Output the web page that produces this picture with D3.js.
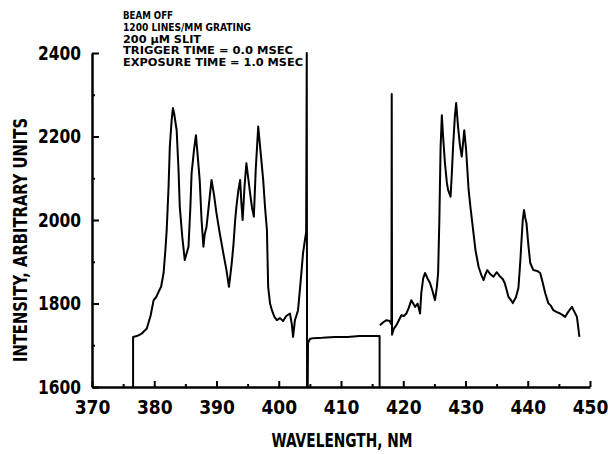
<!DOCTYPE html>
<html>
<head>
<meta charset="utf-8">
<script src="https://cdn.jsdelivr.net/npm/d3@7"></script>
<style>
  html, body { margin: 0; padding: 0; background: #fff; }
  svg { display: block; }
  text { font-family: "Liberation Sans Narrow", "DejaVu Sans Condensed", "Liberation Sans", sans-serif; font-weight: bold; fill: #000; }
</style>
</head>
<body>
<svg id="chart" width="608" height="454"></svg>
<script>
// spectrum, split where the trace breaks
const traceA_nm = [376.6, 376.6, 377.2, 378.0, 378.8, 379.4, 379.9, 380.3, 380.7, 381.1, 381.5, 381.8, 382.0, 382.3, 382.5, 382.8, 383.0, 383.2, 383.6, 383.9, 384.1, 384.5, 384.9, 385.2, 385.5, 385.8, 386.0, 386.4, 386.7, 387.0, 387.3, 387.6, 387.9, 388.1, 388.4, 388.8, 389.2, 389.6, 390.0, 390.5, 391.1, 391.6, 392.0, 392.4, 392.7, 393.0, 393.2, 393.5, 393.8, 394.0, 394.2, 394.5, 394.8, 395.1, 395.4, 395.7, 396.0, 396.3, 396.7, 397.1, 397.5, 397.8, 398.1, 398.3, 398.6, 398.9, 399.3, 399.7, 400.2, 400.7, 401.2, 401.8, 402.1, 402.3, 402.6, 403.1, 403.5, 403.9, 404.2, 404.4, 404.5, 404.55]
const traceA_val = [1600, 1720, 1722, 1728, 1740, 1770, 1808, 1815, 1828, 1840, 1873, 1930, 1976, 2080, 2175, 2240, 2268, 2255, 2215, 2120, 2032, 1960, 1904, 1920, 1936, 2030, 2112, 2170, 2203, 2150, 2096, 2000, 1936, 1965, 1984, 2040, 2096, 2060, 2016, 1970, 1920, 1880, 1840, 1890, 1936, 2000, 2032, 2070, 2096, 2040, 2000, 2080, 2136, 2100, 2064, 2030, 2008, 2120, 2224, 2160, 2096, 2030, 1976, 1840, 1800, 1784, 1768, 1760, 1765, 1758, 1770, 1776, 1750, 1720, 1760, 1784, 1850, 1920, 1952, 1970, 2400, 1600]

const traceB_nm = [404.65, 404.7, 405.0, 405.5, 407, 409, 411, 413, 415, 416.2, 416.2]
const traceB_val = [1600, 1705, 1715, 1717, 1718, 1720, 1720, 1722, 1722, 1722, 1600]

const traceC_nm = [416.25, 416.8, 417.3, 417.8, 418.1, 418.15, 418.2, 418.5, 418.9, 419.3, 419.7, 420.1, 420.5, 420.9, 421.3, 421.6, 421.9, 422.3, 422.7, 422.9, 423.2, 423.5, 423.9, 424.3, 424.7, 425.1, 425.4, 425.6, 425.8, 426.0, 426.2, 426.4, 426.7, 427.0, 427.2, 427.6, 427.8, 428.0, 428.3, 428.5, 428.8, 429.1, 429.4, 429.8, 430.1, 430.5, 430.8, 431.1, 431.6, 432.1, 432.5, 432.9, 433.2, 433.5, 434.0, 434.5, 435.0, 435.6, 436.0, 436.3, 436.9, 437.3, 437.6, 438.1, 438.5, 438.8, 439.0, 439.2, 439.4, 439.6, 439.8, 440.1, 440.4, 440.9, 441.5, 442.0, 442.4, 442.8, 443.3, 443.7, 444.1, 444.6, 445.2, 445.6, 446.0, 446.5, 447.1, 447.5, 447.9, 448.3]
const traceC_val = [1748, 1755, 1760, 1758, 1750, 2302, 1725, 1740, 1748, 1760, 1772, 1770, 1776, 1790, 1808, 1800, 1792, 1800, 1776, 1825, 1860, 1873, 1860, 1849, 1830, 1808, 1840, 1873, 2000, 2175, 2251, 2200, 2136, 2090, 2072, 2056, 2110, 2175, 2250, 2280, 2224, 2180, 2152, 2215, 2168, 2072, 2030, 1992, 1928, 1888, 1870, 1856, 1870, 1880, 1870, 1864, 1875, 1864, 1858, 1849, 1816, 1808, 1801, 1815, 1837, 1900, 1952, 2000, 2024, 2005, 1992, 1940, 1897, 1880, 1878, 1873, 1850, 1825, 1801, 1795, 1784, 1780, 1776, 1772, 1768, 1780, 1792, 1780, 1768, 1720]

const xMajor = [370, 380, 390, 400, 410, 420, 430, 440, 450]
const xMinor = [375, 385, 395, 405, 415, 425, 435, 445]
const yMajor = [1600, 1800, 2000, 2200, 2400]
const yMinor = [1700, 1900, 2100, 2300]

const notes = [
  'BEAM OFF',
  '1200 LINES/MM GRATING',
  '200 \u03bcM SLIT',
  'TRIGGER TIME = 0.0 MSEC',
  'EXPOSURE TIME = 1.0 MSEC'
]
const noteWidths = [50, 128, 78, 170, 180]

const svg = d3.select('#chart')

const x = d3.scaleLinear().domain([370, 450]).range([92, 590])
const y = d3.scaleLinear().domain([1600, 2400]).range([387, 53])

// axes, ticks point inward
const xAxis = svg.append('g')
  .attr('transform', `translate(0, ${y(1600)})`)
  .call(d3.axisBottom(x).tickValues(xMajor).tickSizeInner(-6).tickSizeOuter(0).tickPadding(14))
xAxis.select('.domain').attr('stroke-width', 2.5)
xAxis.selectAll('.tick line').attr('stroke-width', 2)
xAxis.selectAll('.tick text').attr('font-size', 19)

svg.append('g')
  .attr('transform', `translate(0, ${y(1600)})`)
  .call(d3.axisBottom(x).tickValues(xMinor).tickSizeInner(-3).tickSizeOuter(0).tickFormat(''))
  .call(g => g.select('.domain').remove())
  .selectAll('.tick line').attr('stroke-width', 2)

const yAxis = svg.append('g')
  .attr('transform', `translate(${x(370)}, 0)`)
  .call(d3.axisLeft(y).tickValues(yMajor).tickFormat(d3.format('d'))
    .tickSizeInner(-7).tickSizeOuter(0).tickPadding(11))
yAxis.select('.domain').attr('stroke-width', 2.5)
yAxis.selectAll('.tick line').attr('stroke-width', 2)
yAxis.selectAll('.tick text').attr('font-size', 19)
  .attr('textLength', 43).attr('lengthAdjust', 'spacingAndGlyphs')

svg.append('g')
  .attr('transform', `translate(${x(370)}, 0)`)
  .call(d3.axisLeft(y).tickValues(yMinor).tickSizeInner(-3).tickSizeOuter(0).tickFormat(''))
  .call(g => g.select('.domain').remove())
  .selectAll('.tick line').attr('stroke-width', 2)

// axis titles
svg.append('text')
  .attr('x', 342)
  .attr('y', 447)
  .attr('text-anchor', 'middle')
  .attr('font-size', 19)
  .attr('textLength', 141)
  .attr('lengthAdjust', 'spacingAndGlyphs')
  .text('WAVELENGTH, NM')

svg.append('text')
  .attr('transform', 'translate(27, 240) rotate(-90)')
  .attr('text-anchor', 'middle')
  .attr('font-size', 19)
  .attr('textLength', 244)
  .attr('lengthAdjust', 'spacingAndGlyphs')
  .text('INTENSITY, ARBITRARY UNITS')

// notes block
svg.append('g')
  .selectAll('text')
  .data(notes)
  .join('text')
  .attr('x', 123)
  .attr('y', (d, i) => 19 + i * 11.75)
  .attr('font-size', 10)
  .attr('textLength', (d, i) => noteWidths[i])
  .attr('lengthAdjust', 'spacingAndGlyphs')
  .text(d => d)

// trace
const line = d3.line()
  .x(d => x(d[0]))
  .y(d => y(d[1]))

const traces = [
  d3.zip(traceA_nm, traceA_val),
  d3.zip(traceB_nm, traceB_val),
  d3.zip(traceC_nm, traceC_val)
]

svg.append('g')
  .selectAll('path')
  .data(traces)
  .join('path')
  .attr('d', line)
  .attr('fill', 'none')
  .attr('stroke', '#000')
  .attr('stroke-width', 2)
  .attr('stroke-linejoin', 'round')
</script>
</body>
</html>
